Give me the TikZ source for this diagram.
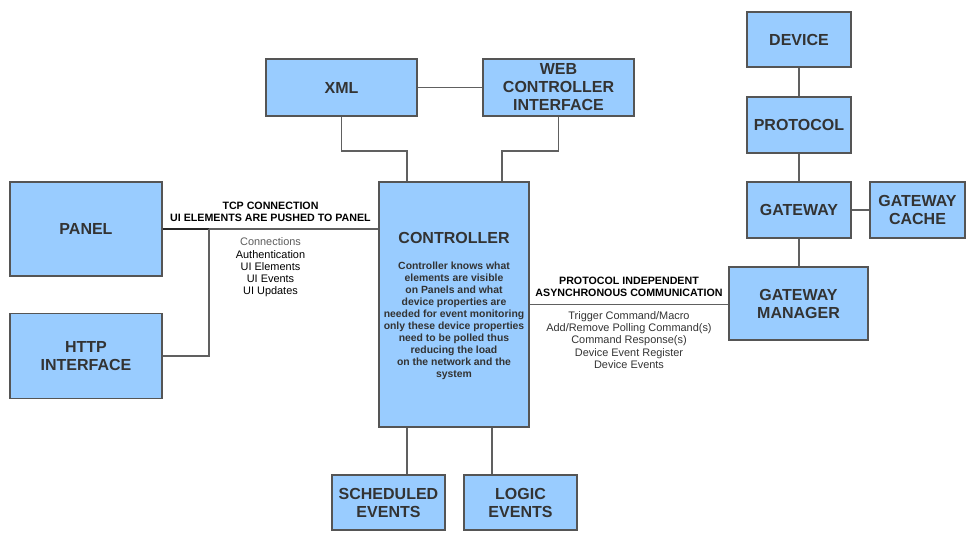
\documentclass[tikz,border=0pt]{standalone}
\usepackage{fontspec}
\setmainfont{Liberation Sans}
\usetikzlibrary{positioning,calc}
\definecolor{boxblue}{HTML}{99CCFF}
\definecolor{boxline}{HTML}{555555}
\definecolor{boxtext}{HTML}{333333}
\definecolor{wire}{HTML}{606060}

\begin{document}
\begin{tikzpicture}[
    x=0.75pt, y=-0.75pt,
    sz/.style 2 args={minimum width=#1*0.75pt, minimum height=#2*0.75pt},
    blk/.style={draw=boxline, line width=1pt, fill=boxblue, align=center, inner sep=1pt,
                font=\fontsize{12}{13.5}\selectfont\bfseries, text=boxtext},
    link/.style={draw=wire, line width=1.4pt},
    tag/.style={align=center, font=\fontsize{8}{9.2}\selectfont\bfseries, inner sep=2pt},
    msgs/.style={align=center, font=\fontsize{8.2}{9.2}\selectfont, text=boxtext, inner sep=2pt},
]
  \useasboundingbox (0,0) rectangle (971,538);
  %% blocks
  \node[blk, sz={152}{94}] (panel) at (86,229) {PANEL};
  \node[blk, sz={152}{85}] (http) at (86,356) {HTTP\\INTERFACE};
  \node[blk, sz={151}{57}] (xml) at (341.5,87.5) {XML};
  \node[blk, sz={151}{57}] (web) at (558.5,87.5) {WEB\\CONTROLLER\\INTERFACE};
  \node[blk, sz={150}{245}] (ctrl) at (454,304.5) {};
  \node[blk, sz={113}{55}] (sched) at (388.5,502.5) {SCHEDULED\\EVENTS};
  \node[blk, sz={113}{55}] (logic) at (520.5,502.5) {LOGIC\\EVENTS};
  \node[blk, sz={104}{55}] (device) at (799,39.5) {DEVICE};
  \node[blk, sz={104}{56}] (proto) at (799,125) {PROTOCOL};
  \node[blk, sz={104}{56}] (gw) at (799,210) {GATEWAY};
  \node[blk, sz={95}{56}] (cache) at (917.5,210) {GATEWAY\\CACHE};
  \node[blk, sz={139}{73}] (gwm) at (798.5,303.5) {GATEWAY\\MANAGER};
  %% controller texts
  \node[font=\fontsize{12}{13.5}\selectfont\bfseries, text=boxtext] (ctrltitle) at (454,238) {CONTROLLER};
  \node[tag, text=boxtext, anchor=north, font=\fontsize{7.8}{9}\selectfont\bfseries] (ctrlnote) at (454,259)
        {Controller knows what\\elements are visible\\on Panels and what\\device properties are\\needed for event monitoring\\
         only these device properties\\need to be polled thus\\reducing the load\\on the network and the\\system};
  %% links
  \coordinate (tap) at (209,229);
  \draw[link] (panel.east) -- node[tag, above=2.5pt] (tcp) {TCP CONNECTION\\UI ELEMENTS ARE PUSHED TO PANEL}
        node[msgs, below=4pt] (uimsg) {\textcolor{boxtext!80}{Connections}\\\textcolor{black}{Authentication}\\
        \textcolor{black}{UI Elements}\\\textcolor{black}{UI Events}\\\textcolor{black}{UI Updates}} (panel.east -| ctrl.west);
  \draw[link, draw=black!85] (panel.east) -- (tap);
  \draw[link] (http.east) -| (tap);
  \draw[link] (xml) -- (web);
  \draw[link] (xml.south) -- ++(0,34) -| ($(ctrl.north)+(-47,0)$);
  \draw[link] (web.south) -- ++(0,34) -| ($(ctrl.north)+(48,0)$);
  \coordinate (c1) at ($(ctrl.south)+(-47,0)$);
  \coordinate (c2) at ($(ctrl.south)+(38,0)$);
  \draw[link] (c1) -- (c1 |- sched.north);
  \draw[link] (c2) -- (c2 |- logic.north);
  \draw[link] (ctrl.east) -- node[tag, above=3pt] (async) {PROTOCOL INDEPENDENT\\ASYNCHRONOUS COMMUNICATION}
        node[msgs, below=2.5pt] (devmsg) {Trigger Command/Macro\\Add/Remove Polling Command(s)\\Command Response(s)\\
        Device Event Register\\Device Events} (ctrl.east -| gwm.west);
  \draw[link] (device) -- (proto);
  \draw[link] (proto) -- (gw);
  \draw[link] (gw) -- (cache);
  \draw[link] (gw.south) -- (gw.south |- gwm.north);
\end{tikzpicture}
\end{document}
